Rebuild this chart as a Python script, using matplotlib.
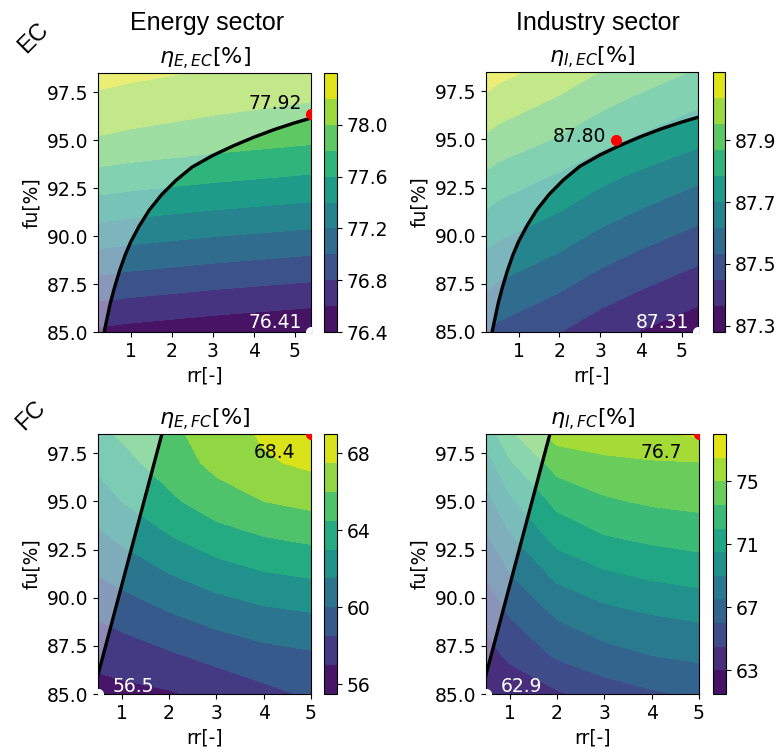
import numpy as np
import matplotlib
matplotlib.use("Agg")
import matplotlib.pyplot as plt

# grid
rr_ec = [0.2, 0.5, 1.0, 2.0, 3.0, 4.0, 5.4]
rr_fc = [0.5, 1.0, 2.0, 3.0, 4.0, 5.0]
fu = [85.0, 87.0, 89.0, 91.0, 93.0, 95.0, 97.0, 98.5]

eta_E_EC = [
    [76.56, 76.55, 76.53, 76.50, 76.47, 76.445, 76.41],
    [76.86, 76.85, 76.83, 76.80, 76.77, 76.745, 76.71],
    [77.15, 77.14, 77.12, 77.09, 77.06, 77.035, 77.00],
    [77.44, 77.43, 77.41, 77.38, 77.35, 77.325, 77.29],
    [77.72, 77.71, 77.69, 77.66, 77.63, 77.605, 77.57],
    [77.98, 77.97, 77.95, 77.92, 77.89, 77.865, 77.83],
    [78.15, 78.14, 78.12, 78.09, 78.06, 78.035, 78.00],
    [78.27, 78.26, 78.24, 78.21, 78.18, 78.155, 78.12],
]
eta_I_EC = [
    [87.53, 87.51, 87.49, 87.45, 87.40, 87.36, 87.31],
    [87.61, 87.59, 87.57, 87.53, 87.48, 87.44, 87.39],
    [87.69, 87.67, 87.65, 87.61, 87.56, 87.52, 87.47],
    [87.77, 87.75, 87.73, 87.69, 87.64, 87.60, 87.55],
    [87.85, 87.83, 87.81, 87.77, 87.72, 87.68, 87.63],
    [87.94, 87.92, 87.90, 87.86, 87.81, 87.77, 87.72],
    [88.02, 88.00, 87.98, 87.94, 87.89, 87.85, 87.80],
    [88.08, 88.06, 88.04, 88.00, 87.95, 87.91, 87.86],
]
eta_E_FC = [
    [56.5, 56.6, 56.85, 57.4, 58.1, 58.7],
    [57.4, 57.7, 58.3, 58.95, 59.5, 59.8],
    [58.6, 59.0, 59.8, 60.5, 61.0, 61.3],
    [59.9, 60.4, 61.3, 62.1, 62.7, 63.0],
    [61.1, 61.7, 62.8, 63.75, 64.35, 64.7],
    [62.3, 63.0, 64.2, 65.3, 66.0, 66.4],
    [63.3, 64.0, 65.2, 66.4, 67.3, 67.8],
    [64.1, 64.7, 65.65, 66.68, 67.7, 68.4],
]
eta_I_FC = [
    [62.9, 63.4, 64.3, 65.2, 65.8, 66.2],
    [63.9, 64.8, 66.2, 67.0, 67.5, 67.8],
    [64.9, 66.0, 67.6, 68.4, 68.9, 69.2],
    [66.0, 67.3, 69.2, 70.1, 70.6, 70.9],
    [67.2, 68.7, 70.9, 71.8, 72.2, 72.5],
    [68.5, 70.2, 72.4, 73.3, 73.7, 73.9],
    [69.8, 71.8, 74.1, 74.6, 74.85, 74.95],
    [71.0, 73.2, 75.6, 76.0, 76.3, 76.7],
]

# feasibility boundaries
ec_curve_rr = [0.35, 0.42, 0.5, 0.6, 0.72, 0.86, 1.0, 1.2, 1.45, 1.75, 2.1, 2.5,
               3.0, 3.5, 4.0, 4.5, 5.0, 5.4]
ec_curve_fu = [85.0, 85.7, 86.5, 87.3, 88.15, 89.0, 89.7, 90.5, 91.35, 92.15, 92.9, 93.6,
               94.2, 94.7, 95.15, 95.55, 95.9, 96.15]
fc_line_rr = [0.5, 1.85]
fc_line_fu = [86.0, 98.5]

# marked points: (rr, fu, label)
best_pts = [(5.4, 96.35, "77.92"), (3.4, 94.95, "87.80"), (5.0, 98.5, "68.4"), (5.0, 98.5, "76.7")]
worst_pts = [(5.4, 85.0, "76.41"), (5.4, 85.0, "87.31"), (0.5, 85.0, "56.5"), (0.5, 85.0, "62.9")]

titles = [r"$\eta_{E,EC}$[%]", r"$\eta_{I,EC}$[%]", r"$\eta_{E,FC}$[%]", r"$\eta_{I,FC}$[%]"]
cbar_ticks = [[76.4, 76.8, 77.2, 77.6, 78.0], [87.3, 87.5, 87.7, 87.9], [56, 60, 64, 68], [63, 67, 71, 75]]
cbar_fmt = ["%.1f", "%.1f", "%d", "%d"]

levels = [np.linspace(76.4, 78.4, 11), np.linspace(87.28, 88.12, 11),
          np.linspace(55.5, 69.0, 10), np.linspace(61.5, 78.0, 12)]

FS = 13.5
W, H = 783, 753
fig = plt.figure(figsize=(W / 100, H / 100), dpi=100)

def box(x0, y0, x1, y1):
    return [x0 / W, 1 - y1 / H, (x1 - x0) / W, (y1 - y0) / H]

ax_boxes = [box(98, 73, 311, 332), box(486, 72, 698, 332), box(98, 434, 311, 694), box(486, 434, 699, 694)]
cb_boxes = [box(324, 73, 337, 332), box(713, 72, 725, 332), box(324, 434, 337, 694), box(713, 434, 726, 694)]

panels = [
    (rr_ec, eta_E_EC, ec_curve_rr, ec_curve_fu),
    (rr_ec, eta_I_EC, ec_curve_rr, ec_curve_fu),
    (rr_fc, eta_E_FC, fc_line_rr, fc_line_fu),
    (rr_fc, eta_I_FC, fc_line_rr, fc_line_fu),
]
best_off = [(-6.7, 3.5, "right"), (-7.2, -1.2, "right"), (-11.3, -17.3, "right"), (-12.0, -17.3, "right")]
worst_off = [(-6.7, 3.1, "right"), (-6.7, 3.1, "right"), (10.8, 1.7, "left"), (10.3, 1.7, "left")]

for i, (rr, Z, lx, ly) in enumerate(panels):
    ax = fig.add_axes(ax_boxes[i])
    cax = fig.add_axes(cb_boxes[i])
    X, Y = np.meshgrid(rr, fu)
    cs = ax.contourf(X, Y, np.array(Z), levels=levels[i], cmap="viridis")
    # shade the infeasible side of the boundary
    if i < 2:
        px = np.r_[lx, rr[-1], rr[0], rr[0]]
        py = np.r_[ly, fu[-1], fu[-1], fu[0]]
    else:
        px = np.r_[lx, rr[0]]
        py = np.r_[ly, fu[-1]]
    ax.fill(px, py, color="white", alpha=0.4, lw=0, zorder=2)
    ax.plot(lx, ly, color="black", lw=2.4, zorder=3)

    bx, by, bt = best_pts[i]
    wx, wy, wt = worst_pts[i]
    ax.plot(bx, by, "o", color="red", ms=7, zorder=4)
    ax.plot(wx, wy, "o", color="white", ms=7, zorder=4)
    dx, dy, ha = best_off[i]
    ax.annotate(bt, (bx, by), xytext=(dx, dy), textcoords="offset points",
                ha=ha, va="baseline", fontsize=FS, color="black", zorder=5)
    dx, dy, ha = worst_off[i]
    ax.annotate(wt, (wx, wy), xytext=(dx, dy), textcoords="offset points",
                ha=ha, va="baseline", fontsize=FS, color="white", zorder=5)

    ax.set_xlim(rr[0], rr[-1])
    ax.set_ylim(fu[0], fu[-1])
    ax.set_xticks([1, 2, 3, 4, 5])
    ax.set_yticks([85.0, 87.5, 90.0, 92.5, 95.0, 97.5])
    ax.yaxis.set_major_formatter("{x:.1f}")
    ax.tick_params(labelsize=FS)
    ax.set_xlabel("rr[-]", fontsize=FS)
    ax.set_ylabel("fu[%]", fontsize=FS)
    ax.set_title(titles[i], fontsize=16)

    cb = fig.colorbar(cs, cax=cax, ticks=cbar_ticks[i], format=cbar_fmt[i])
    cb.ax.tick_params(labelsize=FS)

sans = ["Liberation Sans", "DejaVu Sans"]
fig.text(207 / W, 1 - 23 / H, "Energy sector", ha="center", va="center", fontsize=18, family=sans)
fig.text(598 / W, 1 - 23 / H, "Industry sector", ha="center", va="center", fontsize=18, family=sans)
fig.text(33 / W, 1 - 38 / H, "EC", ha="center", va="center", rotation=45, fontsize=17, family=sans)
fig.text(31 / W, 1 - 416 / H, "FC", ha="center", va="center", rotation=45, fontsize=17, family=sans)

fig.savefig("out.png", dpi=100)
